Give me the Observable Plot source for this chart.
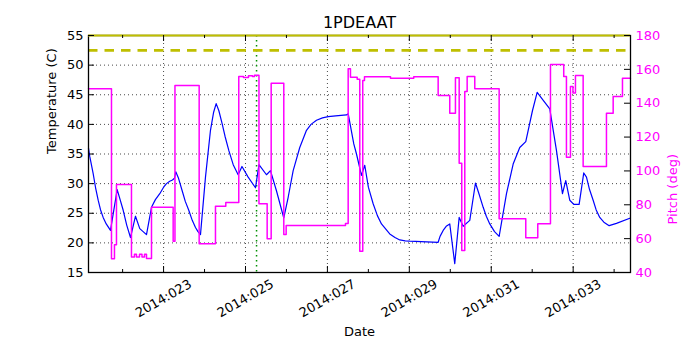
<!DOCTYPE html>
<html><head><meta charset="utf-8">
<script src="https://cdn.jsdelivr.net/npm/d3@7"></script>
<script src="https://cdn.jsdelivr.net/npm/@observablehq/plot@0.6"></script>
<style>
body{margin:0;background:#fff}
#chart svg{font-family:"DejaVu Sans",sans-serif;display:block}
</style>
</head><body><div id="chart"></div>
<script>
const title = "1PDEAAT";
const xLabel = "Date";
const yLabelLeft = "Temperature (C)";
const yLabelRight = "Pitch (deg)";

const tempDays = [21.167,21.2,21.281,21.34,21.403,21.46,21.525,21.6,21.704,21.867,21.93,22.014,22.1,22.192,22.314,22.419,22.583,22.705,22.8,22.907,23.0,23.071,23.15,23.217,23.266,23.298,23.36,23.454,23.53,23.615,23.7,23.779,23.84,23.901,24.023,24.145,24.22,24.284,24.35,24.431,24.5,24.592,24.7,24.821,24.914,25.065,25.244,25.329,25.512,25.610,25.756,25.935,26.042,26.164,26.325,26.489,26.6,26.733,26.88,27.019,27.2,27.465,27.507,27.644,27.710,27.832,27.912,28.0,28.117,28.22,28.320,28.522,28.65,28.767,28.9,29.011,29.704,29.75,29.826,29.9,29.987,30.109,30.217,30.314,30.476,30.615,30.7,30.803,30.88,30.964,31.08,31.193,31.372,31.535,31.696,31.843,32.006,32.121,32.429,32.592,32.739,32.819,32.917,33.015,33.146,33.259,33.325,33.4,33.488,33.56,33.649,33.75,33.879,34.057,34.399];
const tempValues = [36.0,34.5,31.7,29.3,27.2,25.6,24.3,23.2,22.1,29.0,27.5,25.5,23.0,20.9,24.5,22.4,21.4,26.0,27.3,28.3,29.4,30.0,30.4,30.6,30.9,32.0,31.0,28.8,27.0,25.5,23.8,22.6,21.9,21.4,31.1,39.0,42.0,43.5,42.3,40.1,38.0,35.6,33.2,31.5,32.9,31.1,29.3,33.2,31.5,32.2,28.8,24.2,27.7,32.2,36.1,39.0,40.0,40.7,41.1,41.3,41.45,41.6,41.8,36.7,35.0,31.4,33.1,29.4,26.6,24.6,23.2,21.5,20.9,20.5,20.35,20.3,20.1,21.1,22.1,22.8,23.2,16.5,24.3,22.8,23.8,30.1,28.3,26.0,24.5,23.2,21.9,21.1,28.3,33.3,36.1,37.1,42.3,45.4,42.6,35.6,28.3,30.5,27.2,26.5,26.5,31.8,31.1,29.0,27.2,25.6,24.3,23.5,22.9,23.3,24.2];

const pitchDays = [21.167,21.728,21.801,21.850,22.216,22.289,22.338,22.412,22.473,22.534,22.583,22.705,23.234,23.278,23.869,24.267,24.519,24.836,24.951,25.073,25.170,25.219,25.329,25.529,25.627,25.935,25.993,27.441,27.507,27.563,27.727,27.790,27.863,27.905,28.540,29.108,29.704,29.987,30.126,30.217,30.280,30.354,30.412,30.598,31.193,31.843,32.136,32.446,32.770,32.836,32.934,32.995,33.056,33.244,33.813,33.977,34.204,34.399];
const pitchValues = [148.5,48.1,56.4,92.0,49.1,50.8,49.1,50.8,49.1,50.8,48.3,78.6,58.5,150.5,57.0,79.2,81.4,155.8,155.2,156.2,155.8,156.5,80.6,60.0,151.8,62.5,67.8,69.0,160.3,155.4,154.2,52.6,153.4,155.6,154.8,155.6,144.6,134.1,155.0,104.6,53.0,146.9,155.8,148.5,71.7,60.5,68.8,162.9,155.8,108.1,149.9,146.0,156.4,102.6,134.1,144.0,154.8,154.8];

const xMajorDays = [23,25,27,29,31,33];
const xTickLabels = ["2014:023","2014:025","2014:027","2014:029","2014:031","2014:033"];
const xMinorDays = [22,24,26,28,30,32,34];
const tempTicks = [15,20,25,30,35,40,45,50,55];
const pitchTicks = [40,60,80,100,120,140,160,180];
const limitTemp = [52.5];
const maxTemp = [55];
const markerDay = [25.27];
const xDomain = [21.167, 34.4];
const tempDomain = [15, 55];
const pitchDomain = [40, 180];

const toTemp = p => tempDomain[0] + (p - pitchDomain[0]) * (tempDomain[1] - tempDomain[0]) / (pitchDomain[1] - pitchDomain[0]);

const W = 700, H = 350, mL = 88, mR = 70, mT = 35, mB = 78;
const fh = H - mT - mB, fw = W - mL - mR;
const MAG = "#ff00ff";

const temps = tempDays.map((d, i) => ({d, v: tempValues[i]}));
const pitch = pitchDays.map((d, i) => ({d, v: pitchValues[i]}));
const grid = {stroke: "black", strokeDasharray: "1,3", strokeWidth: 0.8, strokeOpacity: 0.9};

const chart = Plot.plot({
  width: W, height: H,
  marginLeft: mL, marginRight: mR, marginTop: mT, marginBottom: mB,
  style: {fontFamily: "DejaVu Sans, sans-serif", fontSize: "13px", background: "white", color: "black"},
  x: {domain: xDomain, axis: null},
  y: {domain: tempDomain, axis: null},
  marks: [
    Plot.ruleX(xMajorDays, {x: d => d, ...grid}),
    Plot.ruleY(tempTicks.slice(1, -1), {y: d => d, ...grid}),
    Plot.ruleX(markerDay, {x: d => d, stroke: "#009000", strokeDasharray: "1.5,3.5", strokeWidth: 1.5}),
    Plot.ruleY(limitTemp, {y: d => d, stroke: "#bfbf00", strokeWidth: 2.8, strokeDasharray: "9.5,7"}),
    Plot.line(temps, {x: "d", y: "v", stroke: "#0000ff", strokeWidth: 1.2}),
    Plot.line(pitch, {x: "d", y: d => toTemp(d.v), curve: "step-after", stroke: MAG, strokeWidth: 1.5}),
    Plot.frame({stroke: "black", strokeWidth: 1.3}),
    Plot.ruleY(maxTemp, {y: d => d, stroke: "#bfbf00", strokeWidth: 2}),
    // ticks (inward)
    Plot.ruleX(xMajorDays, {x: d => d, insetTop: fh - 6, stroke: "black"}),
    Plot.ruleX(xMajorDays, {x: d => d, insetBottom: fh - 6, stroke: "black"}),
    Plot.ruleX(xMinorDays, {x: d => d, insetTop: fh - 3, stroke: "black"}),
    Plot.ruleX(xMinorDays, {x: d => d, insetBottom: fh - 3, stroke: "black"}),
    Plot.ruleY(tempTicks, {y: d => d, insetRight: fw - 6, stroke: "black"}),
    Plot.ruleY(pitchTicks, {y: d => toTemp(d), insetLeft: fw - 6, stroke: "black"}),
    // tick labels
    Plot.text(tempTicks, {y: d => d, frameAnchor: "left", text: d => String(d), textAnchor: "end", dx: -5, fontSize: 13, fill: "black"}),
    Plot.text(pitchTicks, {y: d => toTemp(d), frameAnchor: "right", text: d => String(d), textAnchor: "start", dx: 5, fontSize: 13, fill: MAG}),
    Plot.text(xMajorDays, {x: d => d, frameAnchor: "bottom", text: (d, i) => xTickLabels[i], rotate: -30, textAnchor: "middle", lineAnchor: "middle", dy: 26, fontSize: 13, fill: "black"}),
    // titles
    Plot.text([title], {frameAnchor: "top", text: d => d, dy: -13, fontSize: 16, lineAnchor: "middle", fill: "black"}),
    Plot.text([xLabel], {frameAnchor: "bottom", text: d => d, dy: 59, fontSize: 13, lineAnchor: "middle", fill: "black"}),
    Plot.text([yLabelLeft], {frameAnchor: "left", text: d => d, dx: -37, rotate: -90, fontSize: 13, lineAnchor: "middle", fill: "black"}),
    Plot.text([yLabelRight], {frameAnchor: "right", text: d => d, dx: 42, rotate: -90, fontSize: 13, lineAnchor: "middle", fill: MAG})
  ]
});
document.getElementById("chart").appendChild(chart);
</script>
</body></html>
